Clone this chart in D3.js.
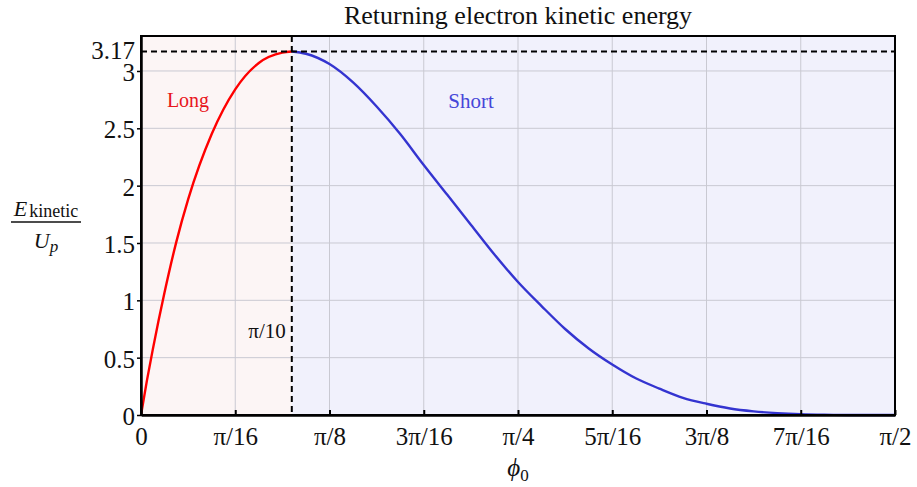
<!DOCTYPE html>
<html>
<head>
<meta charset="utf-8">
<script src="https://cdn.jsdelivr.net/npm/d3@7"></script>
<style>
  html, body { margin: 0; padding: 0; background: #fff; }
  svg { display: block; font-family: "Liberation Serif", "DejaVu Serif", serif; }
</style>
</head>
<body>
<svg id="chart" width="917" height="487"></svg>
<script>
// Ionization phase φ0 (rad) and return energy E/Up, long trajectories
const longPhase  = [0, 0.0123, 0.0245, 0.0491, 0.0736, 0.0982, 0.1473, 0.1963, 0.2454, 0.2945, 0.3142];
const longEnergy = [0, 0.30, 0.57, 1.07, 1.51, 1.88, 2.45, 2.84, 3.07, 3.16, 3.17];

// Short trajectories
const shortPhase  = [0.3142, 0.3436, 0.3927, 0.4418, 0.4909, 0.5400, 0.5890, 0.6381, 0.6872, 0.7363,
                     0.7854, 0.8345, 0.8836, 0.9327, 0.9817, 1.0308, 1.0799, 1.1290, 1.1781, 1.2272,
                     1.2763, 1.3254, 1.3744, 1.4235, 1.4726, 1.5217, 1.5708];
const shortEnergy = [3.17, 3.15, 3.06, 2.90, 2.69, 2.45, 2.18, 1.92, 1.66, 1.40,
                     1.16, 0.95, 0.75, 0.58, 0.44, 0.32, 0.23, 0.15, 0.098, 0.057,
                     0.032, 0.016, 0.0064, 0.002, 0.0004, 0, 0];

// Axis ticks
const xTickValues = [0, 1, 2, 3, 4, 5, 6, 7, 8].map(k => k * Math.PI / 16);
const xTickLabels = ["0", "π/16", "π/8", "3π/16", "π/4", "5π/16", "3π/8", "7π/16", "π/2"];
const yTickValues = [0, 0.5, 1, 1.5, 2, 2.5, 3];
const yTickLabels = ["0", "0.5", "1", "1.5", "2", "2.5", "3"];

// Cutoff marker
const peakPhase = Math.PI / 10;
const peakEnergy = 3.17;
const peakPhaseLabel = "π/10";
const peakEnergyLabel = "3.17";

const svg = d3.select("#chart");
const plotLeft = 141, plotRight = 895, plotTop = 36, plotBottom = 415;

const x = d3.scaleLinear().domain([0, Math.PI / 2]).range([plotLeft, plotRight]);
const y = d3.scaleLinear().domain([0, 3.305]).range([plotBottom, plotTop]);

// Shaded regions
svg.append("rect")
  .attr("x", x(0)).attr("y", plotTop)
  .attr("width", x(peakPhase) - x(0)).attr("height", plotBottom - plotTop)
  .attr("fill", "#fcf5f5");
svg.append("rect")
  .attr("x", x(peakPhase)).attr("y", plotTop)
  .attr("width", x(Math.PI / 2) - x(peakPhase)).attr("height", plotBottom - plotTop)
  .attr("fill", "#f1f1fc");

// Grid
const grid = svg.append("g").attr("stroke", "#c9c9d2").attr("stroke-width", 1);
xTickValues.slice(1, -1).forEach(v => {
  grid.append("line").attr("x1", x(v)).attr("x2", x(v)).attr("y1", plotTop).attr("y2", plotBottom);
});
yTickValues.slice(1).forEach(v => {
  grid.append("line").attr("x1", plotLeft).attr("x2", plotRight).attr("y1", y(v)).attr("y2", y(v));
});

// Curves
const line = d3.line().x(d => x(d[0])).y(d => y(d[1])).curve(d3.curveMonotoneX);
svg.append("path")
  .datum(longPhase.map((p, i) => [p, longEnergy[i]]))
  .attr("d", line).attr("fill", "none").attr("stroke", "#ff0000").attr("stroke-width", 2.4);
svg.append("path")
  .datum(shortPhase.map((p, i) => [p, shortEnergy[i]]))
  .attr("d", line).attr("fill", "none").attr("stroke", "#3434d0").attr("stroke-width", 2.4);

// Dashed cutoff lines
svg.append("line")
  .attr("x1", plotLeft).attr("x2", plotRight).attr("y1", y(peakEnergy)).attr("y2", y(peakEnergy))
  .attr("stroke", "#000").attr("stroke-width", 2).attr("stroke-dasharray", "6,4");
svg.append("line")
  .attr("x1", x(peakPhase)).attr("x2", x(peakPhase)).attr("y1", plotTop).attr("y2", plotBottom)
  .attr("stroke", "#000").attr("stroke-width", 2).attr("stroke-dasharray", "6,4");

// Frame
svg.append("rect")
  .attr("x", plotLeft).attr("y", plotTop).attr("width", plotRight - plotLeft).attr("height", plotBottom - plotTop)
  .attr("fill", "none").attr("stroke", "#000").attr("stroke-width", 2);

// Bottom axis
const xAxis = d3.axisBottom(x).tickValues(xTickValues)
  .tickFormat((d, i) => xTickLabels[i]).tickSizeInner(-5).tickSizeOuter(0).tickPadding(12);
const gx = svg.append("g").attr("transform", `translate(0,${plotBottom})`).call(xAxis);
gx.select(".domain").attr("stroke-width", 2.5);
gx.selectAll(".tick line").attr("stroke-width", 2);
gx.selectAll(".tick text").attr("font-size", 25).attr("fill", "#111")
  .attr("font-family", "Liberation Serif, serif");

// Left axis
const yAxis = d3.axisLeft(y).tickValues(yTickValues)
  .tickFormat((d, i) => yTickLabels[i]).tickSizeInner(4).tickSizeOuter(0).tickPadding(2);
const gy = svg.append("g").attr("transform", `translate(${plotLeft},0)`).call(yAxis);
gy.select(".domain").attr("stroke-width", 2.5);
gy.selectAll(".tick line").attr("stroke-width", 1.5);
gy.selectAll(".tick text").attr("font-size", 25).attr("fill", "#111").attr("dy", "0.38em")
  .attr("font-family", "Liberation Serif, serif");

// Peak value label on the left axis
svg.append("text")
  .attr("x", plotLeft - 6).attr("y", y(peakEnergy)).attr("dy", "0.3em")
  .attr("text-anchor", "end").attr("font-size", 25).attr("fill", "#111")
  .text(peakEnergyLabel);

// Phase label beside the vertical dashed line
svg.append("text")
  .attr("x", x(peakPhase) - 6).attr("y", 338)
  .attr("text-anchor", "end").attr("font-size", 21).attr("fill", "#111")
  .text(peakPhaseLabel);

// Region labels
svg.append("text").attr("x", 188).attr("y", 107).attr("text-anchor", "middle")
  .attr("font-size", 20).attr("fill", "#e8161b").text("Long");
svg.append("text").attr("x", 471).attr("y", 108).attr("text-anchor", "middle")
  .attr("font-size", 21).attr("fill", "#4646d8").text("Short");

// Title
svg.append("text").attr("x", (plotLeft + plotRight) / 2).attr("y", 24).attr("text-anchor", "middle")
  .attr("font-size", 26).attr("fill", "#111").text("Returning electron kinetic energy");

// x-axis label φ0
const xl = svg.append("text").attr("x", (plotLeft + plotRight) / 2).attr("y", 476)
  .attr("text-anchor", "middle").attr("font-size", 25).attr("fill", "#111");
xl.append("tspan").attr("font-style", "italic").text("ϕ");
xl.append("tspan").attr("font-size", 17).attr("dy", 5).text("0");

// y-axis label E_kinetic / U_p
const yl = svg.append("g");
const num = yl.append("text").attr("x", 46).attr("y", 216).attr("text-anchor", "middle")
  .attr("font-size", 22).attr("fill", "#111");
num.append("tspan").attr("font-style", "italic").text("E");
num.append("tspan").attr("font-size", 18).attr("dx", 2).attr("dy", 1).text("kinetic");
yl.append("line").attr("x1", 11).attr("x2", 81).attr("y1", 222).attr("y2", 222)
  .attr("stroke", "#111").attr("stroke-width", 1.5);
const den = yl.append("text").attr("x", 46).attr("y", 248).attr("text-anchor", "middle")
  .attr("font-size", 22).attr("fill", "#111");
den.append("tspan").attr("font-style", "italic").text("U");
den.append("tspan").attr("font-style", "italic").attr("font-size", 17).attr("dy", 4).text("p");
</script>
</body>
</html>
